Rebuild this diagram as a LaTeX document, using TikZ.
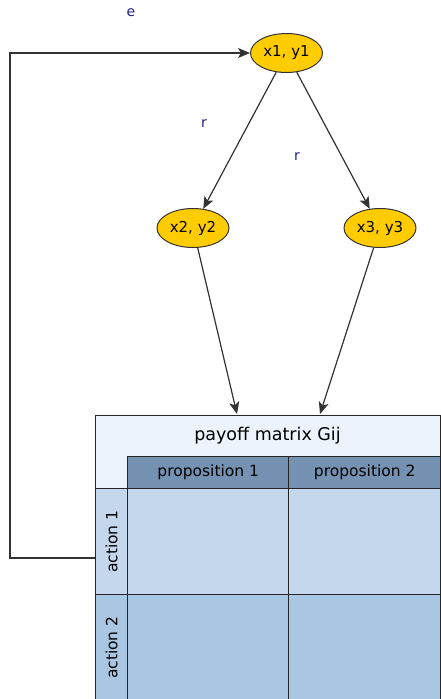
\documentclass[tikz,border=0pt]{standalone}
\usepackage{fontspec}
\setmainfont{DejaVu Sans}
\definecolor{pmgold} {RGB}{255,204,0}
\definecolor{pmedge} {RGB}{50,50,50}
\definecolor{pmtitle}{RGB}{236,243,252}
\definecolor{pmhead} {RGB}{117,146,178}
\definecolor{pmrowa} {RGB}{197,215,236}
\definecolor{pmrowb} {RGB}{169,198,226}
\definecolor{pmlabel}{RGB}{30,30,140}
\usetikzlibrary{arrows.meta,shapes.geometric}
\tikzset{
  state/.style={ellipse,draw=pmedge,fill=pmgold,line width=1pt,
                minimum width=72pt,minimum height=39pt,inner sep=0pt,
                font=\fontsize{15}{17}\selectfont},
  cell/.style={rectangle,draw=black!85,line width=1.4pt,fill=#1,
               inner sep=0pt,anchor=north west},
  cell/.default=pmrowa,
  arr/.style={-{Stealth[length=12pt,width=10pt,inset=3pt]},line width=1.2pt,pmedge},
  tag/.style={font=\fontsize{14}{16}\selectfont,text=pmlabel,inner sep=0pt},
  headtxt/.style={font=\fontsize{15.5}{17}\selectfont,inner sep=0pt},
}
\begin{document}
\begin{tikzpicture}[x=1pt,y=-1pt]
  \useasboundingbox (0,0) rectangle (441,699);
  \clip (0,0) rectangle (441,699);
  % payoff matrix
  \node[cell=pmtitle,minimum width=345pt,minimum height=73pt] (gframe) at (95,415) {};
  \node[font=\fontsize{17.5}{20}\selectfont,inner sep=0pt] (gtitle) at (267.5,436) {payoff matrix Gij};
  \node[cell=pmhead,minimum width=161pt,minimum height=32pt] (prop1) at (127,456) {};
  \node[cell=pmhead,minimum width=152pt,minimum height=32pt] (prop2) at (288,456) {};
  \node[headtxt] at (prop1.center) {proposition 1};
  \node[headtxt] at (prop2.center) {proposition 2};
  \node[cell=pmrowa,minimum width=32pt,minimum height=106pt] (act1) at (95,488) {};
  \node[cell=pmrowb,minimum width=32pt,minimum height=106pt] (act2) at (95,594) {};
  \node[headtxt,rotate=90] at (act1.center) {action 1};
  \node[headtxt,rotate=90] at (act2.center) {action 2};
  \node[cell=pmrowa,minimum width=161pt,minimum height=106pt] (c11) at (127,488) {};
  \node[cell=pmrowa,minimum width=152pt,minimum height=106pt] (c12) at (288,488) {};
  \node[cell=pmrowb,minimum width=161pt,minimum height=106pt] (c21) at (127,594) {};
  \node[cell=pmrowb,minimum width=152pt,minimum height=106pt] (c22) at (288,594) {};
  % states
  \node[state] (x1) at (286.5,53) {x1, y1};
  \node[state] (x2) at (193,228) {x2, y2};
  \node[state] (x3) at (380,228) {x3, y3};
  \node[tag] (e)  at (131,13)  {e};
  \node[tag] (r1) at (204,124) {r};
  \node[tag] (r2) at (297,157) {r};
  % connectors
  \coordinate (in2) at (237,414);
  \coordinate (in3) at (320,414);
  \coordinate (fb)  at (95,558);
  \coordinate (fbc) at (10,558);
  \draw[arr] (x1) -- (x2);
  \draw[arr] (x1) -- (x3);
  \draw[arr] (x2) -- (in2);
  \draw[arr] (x3) -- (in3);
  \draw[arr] (fb) -- (fbc) |- (x1);
\end{tikzpicture}
\end{document}
